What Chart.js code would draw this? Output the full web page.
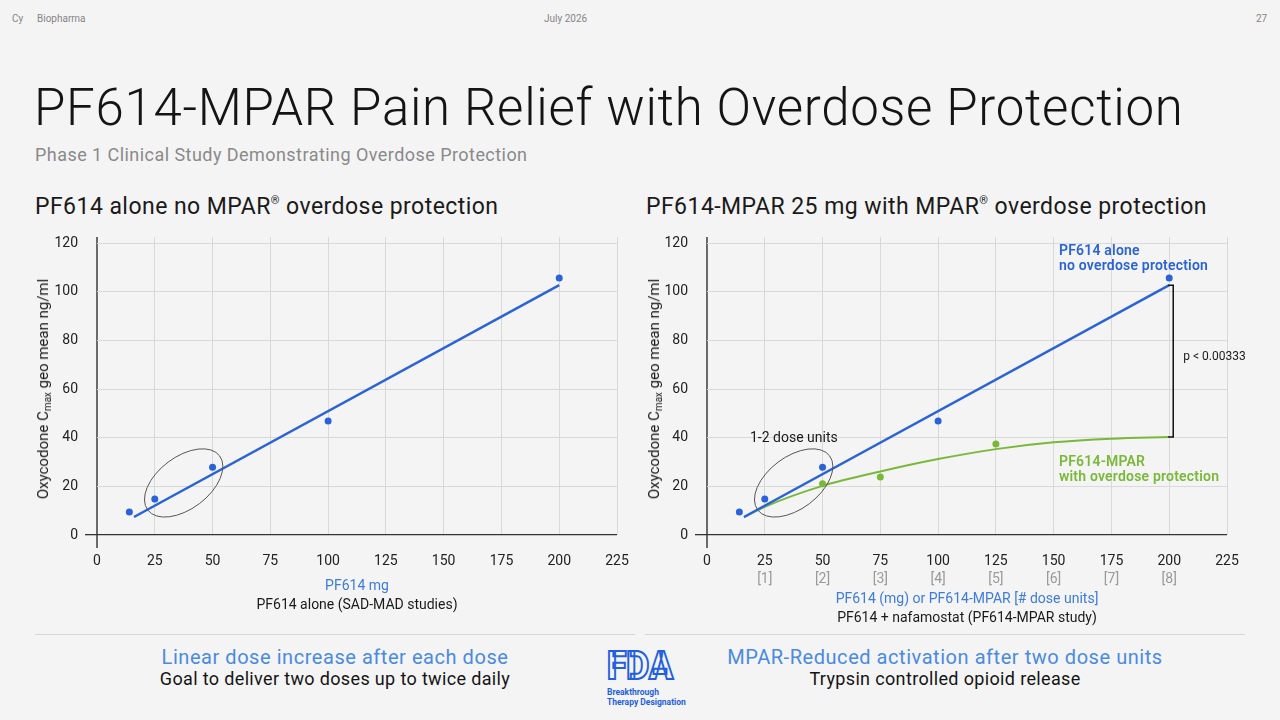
<!DOCTYPE html>
<html><head><meta charset="utf-8">
<script src="https://cdn.jsdelivr.net/npm/chart.js@4.4.1/dist/chart.umd.min.js"></script>
<style>
body{margin:0;width:1280px;height:720px;background:#f4f4f4;font-family:Roboto,"Liberation Sans",sans-serif;position:relative;overflow:hidden;color:#1a1a1a;}
.abs{position:absolute;white-space:nowrap;}
.hdr{font-size:10px;color:#858585;top:13px;line-height:12px;}
.title{left:34px;top:78px;font-size:51px;font-weight:300;line-height:60px;color:#141414;letter-spacing:0.7px;}
.sub{left:35px;top:144px;font-size:18px;color:#8a8a8a;line-height:22px;letter-spacing:0.45px;}
.sec{top:193px;font-size:23px;line-height:28px;color:#1a1a1a;letter-spacing:0.45px;}
.sec sup{font-size:11px;vertical-align:10px;line-height:0;}
.wrap{position:absolute;top:230px;width:595px;height:362px;}
.ytitle{font-size:15px;line-height:20px;color:#1a1a1a;transform:translate(-50%,-50%) rotate(-90deg);}
.ytitle sub{font-size:10px;vertical-align:-3px;line-height:0;}
.xt{font-size:14px;line-height:18px;transform:translateX(-50%);}
.blue{color:#3d7be0;}
.ann{font-size:14px;font-weight:600;line-height:15px;letter-spacing:0.2px;}
.sep{position:absolute;top:634px;height:1px;background:#d6d6d6;}
.bt1{font-size:20px;line-height:24px;color:#4a8ae2;transform:translateX(-50%);letter-spacing:0.55px;}
.bt2{font-size:18px;line-height:22px;color:#141414;transform:translateX(-50%);letter-spacing:0.35px;}
.fdatxt{left:607px;top:687px;font-size:8.5px;font-weight:700;line-height:10px;color:#1f5fe0;}
</style></head>
<body>
<div class="abs hdr" style="left:12px">Cy</div>
<div class="abs hdr" style="left:37px">Biopharma</div>
<div class="abs hdr" style="left:544px">July 2026</div>
<div class="abs hdr" style="left:1256px">27</div>

<div class="abs title">PF614-MPAR Pain Relief with Overdose Protection</div>
<div class="abs sub">Phase 1 Clinical Study Demonstrating Overdose Protection</div>
<div class="abs sec" style="left:35px">PF614 alone no MPAR<sup>®</sup> overdose protection</div>
<div class="abs sec" style="left:646px">PF614-MPAR 25 mg with MPAR<sup>®</sup> overdose protection</div>

<div class="wrap" style="left:40px"><canvas id="c1"></canvas></div>
<div class="wrap" style="left:650px"><canvas id="c2"></canvas></div>

<div class="abs ytitle" style="left:43px;top:389px">Oxycodone C<sub>max</sub> geo mean ng/ml</div>
<div class="abs ytitle" style="left:654px;top:389px">Oxycodone C<sub>max</sub> geo mean ng/ml</div>

<div class="abs xt blue" style="left:357px;top:576px">PF614 mg</div>
<div class="abs xt" style="left:357px;top:595px">PF614 alone (SAD-MAD studies)</div>
<div class="abs xt blue" style="left:967px;top:589px">PF614 (mg) or PF614-MPAR [# dose units]</div>
<div class="abs xt" style="left:967px;top:608px">PF614 + nafamostat (PF614-MPAR study)</div>

<div class="abs ann" style="left:1059px;top:243px;color:#2a63d8">PF614 alone<br>no overdose protection</div>
<div class="abs ann" style="left:1059px;top:454px;color:#7ab83a">PF614-MPAR<br>with overdose protection</div>
<div class="abs" style="left:750px;top:428px;font-size:14px;line-height:18px;color:#1a1a1a">1-2 dose units</div>

<div class="sep" style="left:35px;width:600px"></div>
<div class="sep" style="left:645px;width:600px"></div>

<div class="abs bt1" style="left:335px;top:645px">Linear dose increase after each dose</div>
<div class="abs bt2" style="left:335px;top:668px">Goal to deliver two doses up to twice daily</div>
<div class="abs bt1" style="left:945px;top:645px">MPAR-Reduced activation after two dose units</div>
<div class="abs bt2" style="left:945px;top:668px">Trypsin controlled opioid release</div>

<svg class="abs" style="left:605px;top:648px" width="72" height="36" viewBox="0 0 72 36">
  <text x="2" y="31" font-family="Roboto,'Liberation Sans',sans-serif" font-weight="900" font-size="38" textLength="66" lengthAdjust="spacingAndGlyphs" fill="none" stroke="#1f5fe0" stroke-width="2">FDA</text>
</svg>
<div class="abs fdatxt">Breakthrough<br>Therapy Designation</div>

<script>
// ---- data ----
const xTickValues = [0, 25, 50, 75, 100, 125, 150, 175, 200, 225];
const doseUnitLabels = ['', '[1]', '[2]', '[3]', '[4]', '[5]', '[6]', '[7]', '[8]', ''];
const yTickValues = [0, 20, 40, 60, 80, 100, 120];

const doseMg = [14, 25, 50, 100, 200];
const cmaxAlone = [9.5, 14.8, 27.9, 46.9, 105.6];

const fitAloneX = [16, 200];
const fitAloneY = [7.4, 102.7];

const doseMpar = [50, 75, 125];
const cmaxMpar = [21.1, 23.8, 37.4];

const fitMparX = [16, 25, 50, 75, 100, 125, 150, 175, 200];
const fitMparY = [7.3, 11.6, 20.2, 26.1, 31.2, 35.3, 38.1, 39.6, 40.3];

const ellipseCenter = [37.5, 21.4];
const pLabel = 'p < 0.00333';

// ---- helpers ----
const pts = (xs, ys) => xs.map((x, i) => ({x, y: ys[i]}));
const BLUE = '#2a63d8', GREEN = '#7ab83a';

const annot = {
  id: 'annot',
  afterDatasetsDraw(chart, args, opts) {
    const {ctx} = chart;
    const x = chart.scales.x, y = chart.scales.y;
    ctx.save();
    if (opts.ellipse) {
      ctx.beginPath();
      ctx.ellipse(x.getPixelForValue(ellipseCenter[0]), y.getPixelForValue(ellipseCenter[1]), 45, 26, -37 * Math.PI / 180, 0, Math.PI * 2);
      ctx.strokeStyle = '#555'; ctx.lineWidth = 1; ctx.stroke();
    }
    if (opts.bracket) {
      const bx = x.getPixelForValue(fitAloneX[fitAloneX.length - 1]) + 4;
      const yt = y.getPixelForValue(fitAloneY[fitAloneY.length - 1]);
      const yb = y.getPixelForValue(fitMparY[fitMparY.length - 1]);
      ctx.beginPath();
      ctx.moveTo(bx - 5, yt); ctx.lineTo(bx, yt); ctx.lineTo(bx, yb); ctx.lineTo(bx - 5, yb);
      ctx.strokeStyle = '#111'; ctx.lineWidth = 1.5; ctx.stroke();
      ctx.fillStyle = '#1a1a1a';
      ctx.font = '12px Roboto, "Liberation Sans", sans-serif';
      ctx.textAlign = 'left'; ctx.textBaseline = 'middle';
      ctx.fillText(pLabel, bx + 10, (yt + yb) / 2 - 4);
    }
    ctx.restore();
  }
};

function zeroPad(sc) { sc.paddingTop = 0; sc.paddingBottom = 0; sc.paddingLeft = 0; sc.paddingRight = 0; }

function makeScales(withUnits) {
  const tickFont = {family: 'Roboto, "Liberation Sans", sans-serif', size: 14};
  const s = {
    x: {
      type: 'linear', min: 0, max: 225,
      afterBuildTicks: sc => { sc.ticks = xTickValues.map(v => ({value: v})); },
      afterFit: sc => { sc.height = withUnits ? 32 : 57; zeroPad(sc); },
      border: {display: false},
      grid: {
        color: c => c.tick && c.tick.value === 0 ? '#6a6a6a' : '#d9d9d9',
        lineWidth: c => c.tick && c.tick.value === 0 ? 2 : 1,
        tickLength: 13,
        tickColor: c => c.tick && c.tick.value === 0 ? '#6a6a6a' : 'rgba(0,0,0,0)',
        tickWidth: 2
      },
      ticks: {font: tickFont, color: '#222', padding: 5, maxRotation: 0, autoSkip: false}
    },
    y: {
      type: 'linear', min: 0, max: 122.5,
      afterBuildTicks: sc => { sc.ticks = yTickValues.map(v => ({value: v})); },
      afterFit: sc => { sc.width = 57; zeroPad(sc); },
      border: {display: false},
      grid: {
        color: c => c.tick && c.tick.value === 0 ? '#333' : '#d9d9d9',
        lineWidth: c => c.tick && c.tick.value === 0 ? 1.3 : 1,
        tickLength: 12,
        tickColor: c => c.tick && c.tick.value === 0 ? '#333' : 'rgba(0,0,0,0)',
        tickWidth: 1.3
      },
      ticks: {font: tickFont, color: '#222', padding: 7}
    }
  };
  if (withUnits) {
    s.x2 = {
      type: 'linear', position: 'bottom', min: 0, max: 225,
      afterBuildTicks: sc => { sc.ticks = xTickValues.map(v => ({value: v})); },
      afterFit: sc => { sc.height = 25; zeroPad(sc); },
      border: {display: false},
      grid: {display: false, drawTicks: false, tickLength: 0},
      ticks: {font: tickFont, color: '#9a9a9a', padding: 4, maxRotation: 0, autoSkip: false,
        callback: (v, i) => doseUnitLabels[i]}
    };
  }
  return s;
}

const common = {
  responsive: true, maintainAspectRatio: false, animation: false,
  layout: {padding: {top: 7, right: 18, left: 0, bottom: 0}},
  plugins: {legend: {display: false}, tooltip: {enabled: false}}
};

new Chart(document.getElementById('c1'), {
  type: 'scatter',
  data: {datasets: [
    {data: pts(doseMg, cmaxAlone), backgroundColor: BLUE, pointRadius: 3.5, pointBorderWidth: 0},
    {type: 'line', data: pts(fitAloneX, fitAloneY), borderColor: BLUE, borderWidth: 2.5, pointRadius: 0, fill: false}
  ]},
  options: Object.assign({}, common, {
    scales: makeScales(false),
    plugins: Object.assign({}, common.plugins, {annot: {ellipse: true}})
  }),
  plugins: [annot]
});

new Chart(document.getElementById('c2'), {
  type: 'scatter',
  data: {datasets: [
    {data: pts(doseMg, cmaxAlone), backgroundColor: BLUE, pointRadius: 3.5, pointBorderWidth: 0},
    {data: pts(doseMpar, cmaxMpar), backgroundColor: GREEN, pointRadius: 3.5, pointBorderWidth: 0},
    {type: 'line', data: pts(fitAloneX, fitAloneY), borderColor: BLUE, borderWidth: 2.5, pointRadius: 0, fill: false},
    {type: 'line', data: pts(fitMparX, fitMparY), borderColor: GREEN, borderWidth: 2, pointRadius: 0, fill: false, cubicInterpolationMode: 'monotone'}
  ]},
  options: Object.assign({}, common, {
    scales: makeScales(true),
    plugins: Object.assign({}, common.plugins, {annot: {ellipse: true, bracket: true}})
  }),
  plugins: [annot]
});
</script>
</body></html>
